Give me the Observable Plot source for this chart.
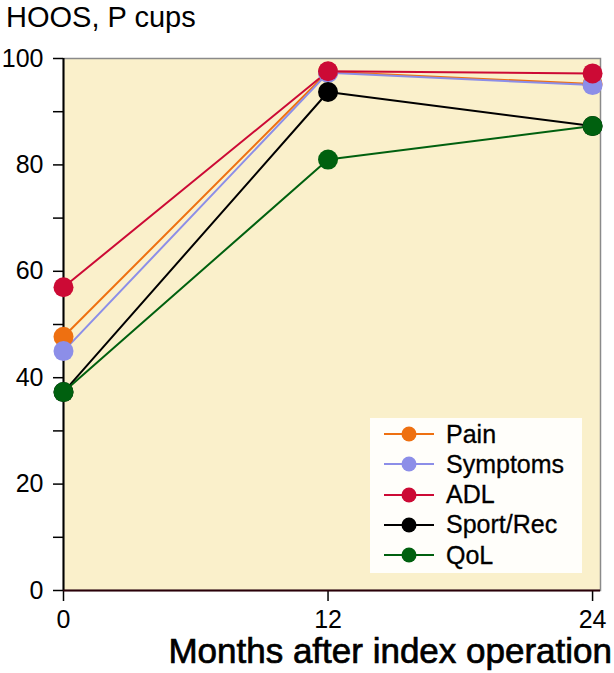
<!DOCTYPE html>
<html>
<head>
<meta charset="utf-8">
<script src="https://cdn.jsdelivr.net/npm/d3@7"></script>
<script src="https://cdn.jsdelivr.net/npm/@observablehq/plot@0.6"></script>
<style>
  html, body { margin: 0; padding: 0; background: #fff; }
  #wrap { position: relative; width: 614px; height: 673px; font-family: "Liberation Sans", Arial, Helvetica, sans-serif; color: #000; }
  #title { position: absolute; left: 6px; top: -1px; font-size: 29px; line-height: 36px; }
  #xlabel { position: absolute; right: 2px; top: 631px; font-size: 35px; line-height: 40px; white-space: nowrap; -webkit-text-stroke: 0.7px #000; }
  #legend { position: absolute; left: 370px; top: 418px; width: 212px; height: 155px; background: #fffefa; }
  .row { position: absolute; left: 0; height: 30px; display: flex; align-items: center; }
  .row svg { margin-left: 13px; }
  .row span { margin-left: 11px; font-size: 25px; -webkit-text-stroke: 0.3px #000; }
</style>
</head>
<body>
<div id="wrap">
  <div id="title">HOOS, P cups</div>
  <div id="chart"></div>
  <div id="legend"></div>
  <div id="xlabel">Months after index operation</div>
</div>
<script>
const months = [0, 12, 24];
const seriesNames = ["Pain", "Symptoms", "ADL", "Sport/Rec", "QoL"];
const seriesColors = ["#ee7011", "#8c8ee8", "#cc0a35", "#000000", "#00600f"];
const pain = [47.7, 97.5, 95.2];
const symptoms = [45.0, 97.3, 95.0];
const adl = [57.0, 97.6, 97.2];
const sportRec = [37.3, 93.7, 87.3];
const qol = [37.3, 81.0, 87.3];
const yMajorTicks = [0, 20, 40, 60, 80, 100];
const yMinorTicks = [10, 30, 50, 70, 90];
const xTicks = [0, 12, 24];

const seriesValues = [pain, symptoms, adl, sportRec, qol];
const data = [];
seriesNames.forEach((name, i) => {
  months.forEach((m, j) => data.push({series: name, month: m, value: seriesValues[i][j]}));
});

const chart = Plot.plot({
  width: 614,
  height: 673,
  marginLeft: 63,
  marginRight: 14,
  marginTop: 58,
  marginBottom: 83,
  style: {fontFamily: "'Liberation Sans', Arial, Helvetica, sans-serif", background: "transparent", color: "#000"},
  x: {domain: [0, 24.36], label: null},
  y: {domain: [0, 100], label: null},
  color: {domain: seriesNames, range: seriesColors},
  marks: [
    Plot.frame({fill: "#faf0cb", stroke: "#8a8a8a", strokeWidth: 1.5}),
    Plot.axisY({ticks: yMajorTicks, tickSize: 10, tickPadding: 10, fontSize: 25, label: null, strokeWidth: 1.5}),
    Plot.axisY({ticks: yMinorTicks, tickSize: 10, text: null, label: null, strokeWidth: 1.5}),
    Plot.axisX({ticks: xTicks, tickSize: 11, tickPadding: 9, fontSize: 25, label: null, strokeWidth: 1.5}),
    Plot.ruleX([0], {stroke: "#000", strokeWidth: 2}),
    Plot.ruleY([0], {stroke: "#2a0008", strokeWidth: 2}),
    Plot.line(data, {x: "month", y: "value", z: "series", stroke: "series", strokeWidth: 2}),
    Plot.dot(data, {x: "month", y: "value", fill: "series", r: 10, stroke: "none"})
  ]
});
document.getElementById("chart").appendChild(chart);

const legend = document.getElementById("legend");
seriesNames.forEach((name, i) => {
  const row = document.createElement("div");
  row.className = "row";
  row.style.top = (1 + i * 30.3) + "px";
  row.innerHTML = `<svg width="52" height="20"><line x1="1" x2="51" y1="10" y2="10" stroke="${seriesColors[i]}" stroke-width="2"/><circle cx="26" cy="10" r="7.5" fill="${seriesColors[i]}"/></svg><span>${name}</span>`;
  legend.appendChild(row);
});
</script>
</body>
</html>
